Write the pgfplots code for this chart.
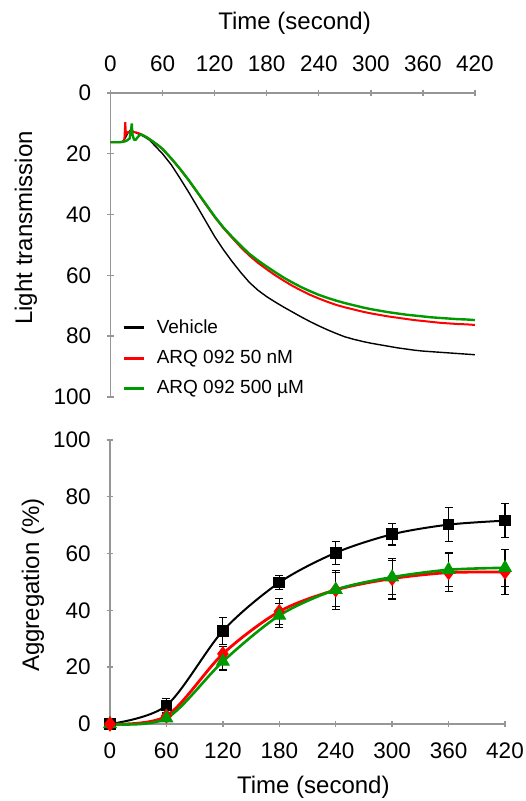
\documentclass[border=0pt]{standalone}
\usepackage{pgfplots}
\pgfplotsset{compat=1.18}
\usepackage{pgfplotstable}
\usepackage{fontspec}
\setmainfont{Liberation Sans}
\definecolor{cred}{RGB}{255,0,0}
\definecolor{cgreen}{RGB}{0,153,0}
\definecolor{caxis}{RGB}{150,150,150}

\pgfplotstableread{
t v
0 16.2
10 16.2
14 16.0
17 14.8
20 13.2
23 12.2
26 12.6
30 13.2
35 13.8
40 14.6
45 15.5
50 17.0
55 18.5
60 20.0
70 23.6
80 28.0
90 32.6
100 37.4
110 42.3
120 47.2
130 51.5
140 55.4
150 59.0
160 62.3
170 64.9
180 67.0
190 68.8
200 70.5
210 72.1
220 73.7
230 75.2
240 76.6
250 77.9
260 79.1
270 80.2
280 81.0
290 81.7
300 82.3
310 82.8
320 83.3
330 83.8
340 84.2
350 84.6
360 84.9
370 85.1
380 85.3
390 85.5
400 85.7
410 85.9
420 86.1
}\traceVehicle

\pgfplotstableread{
t v
0 16.2
10 16.2
14 16.0
16 15.4
17 9.6
17.8 13.6
20 12.9
25 12.8
30 13.0
35 13.5
40 14.3
45 15.2
50 16.2
55 17.3
60 18.5
70 21.6
80 25.0
90 28.7
100 32.7
110 36.8
120 40.8
130 44.4
140 47.6
150 50.7
160 53.5
170 55.9
180 58.0
190 60.0
200 61.8
210 63.5
220 65.0
230 66.4
240 67.6
250 68.7
260 69.7
270 70.5
280 71.2
290 71.9
300 72.5
310 73.0
320 73.5
330 73.9
340 74.3
350 74.7
360 75.0
370 75.3
380 75.6
390 75.8
400 76.0
410 76.1
420 76.3
}\traceLow

\pgfplotstableread{
t v
0 16.2
10 16.2
14 16.1
18 15.8
22 15.0
24 11.5
24.5 10.0
25.2 13.5
27 15.3
29 15.4
32 14.3
35 13.6
38 14.0
42 14.6
45 15.2
50 16.2
55 17.2
60 18.4
70 21.5
80 24.9
90 28.6
100 32.6
110 36.6
120 40.6
130 44.2
140 47.3
150 50.2
160 52.9
170 55.1
180 57.1
190 59.0
200 60.8
210 62.4
220 63.9
230 65.2
240 66.4
250 67.4
260 68.3
270 69.1
280 69.8
290 70.5
300 71.1
310 71.6
320 72.1
330 72.5
340 72.9
350 73.2
360 73.5
370 73.8
380 74.0
390 74.2
400 74.4
410 74.5
420 74.7
}\traceHigh

\pgfplotstableread{
t v e
0 0 0
60 6.5 2.5
120 32.8 4.7
180 49.8 2.5
240 60.3 4.0
300 66.8 3.8
360 70.2 6.0
420 71.6 6.0
}\aggVehicle

\pgfplotstableread{
t v e
0 0 0
60 2.8 1.0
120 24.7 2.5
180 39.6 4.5
240 47.2 6.8
300 51.2 7.2
360 53.3 6.7
420 53.5 8.0
}\aggLow

\pgfplotstableread{
t v e
0 0 0
60 2.0 1.0
120 22.0 3.0
180 38.2 4.3
240 47.3 6.0
300 51.7 6.0
360 54.3 6.0
420 55.0 6.5
}\aggHigh

\pgfplotsset{
  common/.style={
    scale only axis,
    xmin=0, xmax=420, ymin=0, ymax=100,
    xtick={0,60,...,420}, ytick={0,20,...,100},
    tick style={caxis, line width=0.7pt},
    tick align=outside,
    major tick length=3.3pt,
    /pgf/number format/assume math mode=true,
    ticklabel style={font=\fontsize{11.25}{13}\selectfont, text=black},
    yticklabel shift=4.5pt,
  },
  nolinearrows/.style={
    axis line style={caxis, line width=0.7pt, -},
    every outer x axis line/.append style={-},
    every outer y axis line/.append style={-},
    every inner x axis line/.append style={-},
    every inner y axis line/.append style={-},
  }
}

\begin{document}
\begin{tikzpicture}
\useasboundingbox (0,0) rectangle (262.5pt,400.5pt);

\begin{axis}[common,
  at={(55.25pt,202pt)}, anchor=south west,
  width=182.25pt, height=152pt,
  y dir=reverse,
  axis x line=top, axis y line=left,
  nolinearrows,
  xticklabel shift=5.5pt,
  xlabel={Time (second)},
  ylabel={Light transmission},
  xlabel style={at={(axis description cs:0.505,1.2286)}, anchor=center, font=\fontsize{12}{14}\selectfont},
  ylabel style={at={(axis description cs:-0.2318,0.556)}, anchor=center, font=\fontsize{12}{14}\selectfont},
  legend style={at={(axis description cs:0.031,0.27)}, anchor=north west,
    draw=none, fill=none, font=\fontsize{9.5}{11}\selectfont,
    inner sep=0pt, row sep=3pt,
    nodes={inner xsep=6pt}},
  legend cell align=left,
  legend image code/.code={\draw[#1, line width=1.3pt] (-3pt,0pt) -- (7pt,0pt);},
]
\addplot[black, line width=0.7pt] table[x=t, y=v] {\traceVehicle};
\addlegendentry{Vehicle}
\addplot[cred, line width=1.0pt] table[x=t, y=v] {\traceLow};
\addlegendentry{ARQ 092 50 nM}
\addplot[cgreen, line width=1.2pt] table[x=t, y=v] {\traceHigh};
\addlegendentry{ARQ 092 500 µM}
\end{axis}

\begin{axis}[common,
  at={(55pt,38.5pt)}, anchor=south west,
  width=197.5pt, height=142pt,
  clip=false,
  axis x line=bottom, axis y line=left,
  nolinearrows,
  xticklabel shift=4pt,
  xlabel={Time (second)},
  ylabel={Aggregation (\%)},
  xlabel style={at={(axis description cs:0.5148,-0.2236)}, anchor=center, font=\fontsize{12}{14}\selectfont},
  ylabel style={at={(axis description cs:-0.195,0.489)}, anchor=center, font=\fontsize{12}{14}\selectfont},
  error bars/error bar style={black, line width=0.6pt},
  error bars/error mark options={black, rotate=90, mark size=2pt, line width=0.6pt},
]
\addplot[black, line width=1pt, smooth, mark=square*, mark size=2.4pt,
  mark options={solid, fill=black},
  error bars/.cd, y dir=both, y explicit]
  table[x=t, y=v, y error=e] {\aggVehicle};
\addplot[cred, line width=1.4pt, smooth, mark=diamond*, mark size=3.4pt,
  mark options={solid, fill=cred, draw=cred, line width=0.5pt},
  error bars/.cd, y dir=both, y explicit]
  table[x=t, y=v, y error=e] {\aggLow};
\addplot[cgreen, line width=1.3pt, smooth, mark=triangle*, mark size=3.6pt,
  mark options={solid, fill=cgreen, draw=cgreen, line width=0.5pt},
  error bars/.cd, y dir=both, y explicit]
  table[x=t, y=v, y error=e] {\aggHigh};
\addplot[only marks, mark=diamond*, mark size=3.4pt,
  mark options={solid, fill=cred, draw=cred, line width=0.5pt}]
  table[x=t, y=v] {
t v
0 0
};
\end{axis}
\end{tikzpicture}
\end{document}
